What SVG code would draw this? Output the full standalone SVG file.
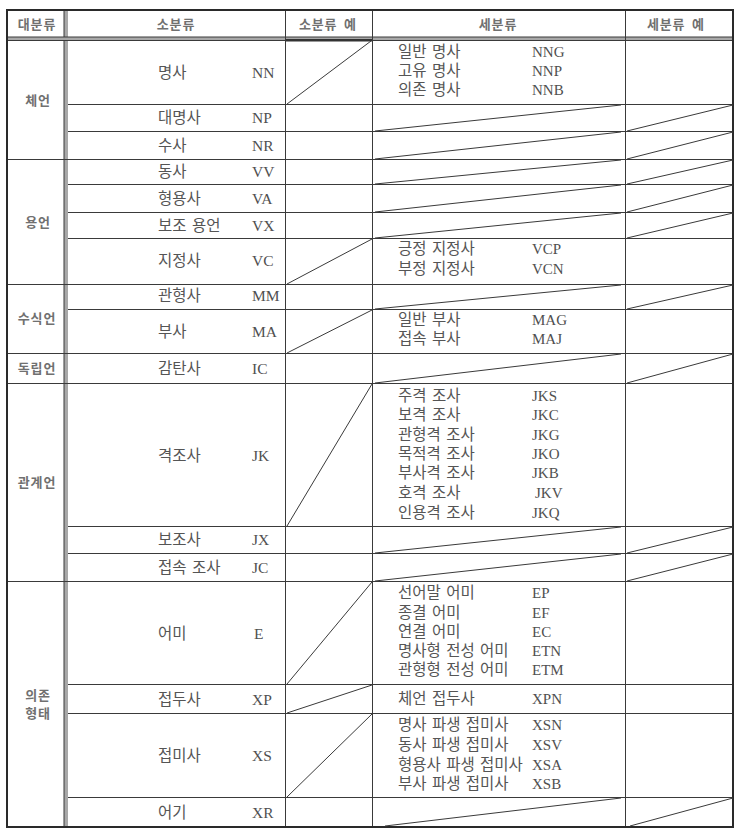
<svg xmlns="http://www.w3.org/2000/svg" width="744" height="835" viewBox="0 0 744 835">
<style>
.bg{fill:#fff}
.ln{stroke:#3a3a3a;stroke-width:1;fill:none}
.dg{stroke:#3a3a3a;stroke-width:1;fill:none}
.bd{stroke:#2a2a2a;stroke-width:2;fill:none}
.gb{fill:#a8a8a8}
.t{font-family:"Liberation Serif","Noto Sans CJK KR",serif;font-size:15.5px;word-spacing:1.5px;fill:#555}
.c{font-family:"Liberation Serif","Noto Sans CJK KR",serif;font-size:15.5px;fill:#505050}
.s{font-family:"Liberation Serif","Noto Sans CJK KR",serif;font-size:15px;fill:#505050}
.h{font-family:"Noto Sans CJK KR",sans-serif;font-size:13px;font-weight:bold;letter-spacing:0.8px;word-spacing:3px;fill:#707070;text-anchor:middle}
</style>
<rect class="bg" x="0" y="0" width="744" height="835"/>
<g id="grid">
<rect class="gb" x="64" y="10" width="4" height="817"/>
<line class="ln" x1="64" y1="10" x2="64" y2="827"/>
<rect class="gb" x="7" y="37" width="726" height="3"/>
<line class="ln" x1="7" y1="37" x2="733" y2="37"/>
<line class="ln" x1="7" y1="40.5" x2="733" y2="40.5"/>
<rect x="285" y="39" width="87" height="2.5" fill="#333"/>
<line class="ln" x1="285.5" y1="10" x2="285.5" y2="827"/>
<line class="ln" x1="372.5" y1="10" x2="372.5" y2="827"/>
<line class="ln" x1="625.5" y1="10" x2="625.5" y2="827"/>
<g id="group-lines">
<line class="ln" x1="7" y1="159.5" x2="733" y2="159.5"/>
<line class="ln" x1="7" y1="284.5" x2="733" y2="284.5"/>
<line class="ln" x1="7" y1="353.5" x2="733" y2="353.5"/>
<line class="ln" x1="7" y1="383.5" x2="733" y2="383.5"/>
<line class="ln" x1="7" y1="581.5" x2="733" y2="581.5"/>
</g>
<g id="row-lines">
<line class="ln" x1="68" y1="104.5" x2="733" y2="104.5"/>
<line class="ln" x1="68" y1="131.5" x2="733" y2="131.5"/>
<line class="ln" x1="68" y1="184.5" x2="733" y2="184.5"/>
<line class="ln" x1="68" y1="212.5" x2="733" y2="212.5"/>
<line class="ln" x1="68" y1="238.5" x2="733" y2="238.5"/>
<line class="ln" x1="68" y1="309.5" x2="733" y2="309.5"/>
<line class="ln" x1="68" y1="526.5" x2="733" y2="526.5"/>
<line class="ln" x1="68" y1="553.5" x2="733" y2="553.5"/>
<line class="ln" x1="68" y1="684.5" x2="733" y2="684.5"/>
<line class="ln" x1="68" y1="713.5" x2="733" y2="713.5"/>
<line class="ln" x1="68" y1="797.5" x2="733" y2="797.5"/>
</g>
<rect class="bd" x="7" y="10" width="726" height="817"/>
</g>
<g id="diagonals">
<line class="dg" x1="287" y1="104" x2="371" y2="41"/>
<line class="dg" x1="287" y1="284" x2="372" y2="239"/>
<line class="dg" x1="287" y1="353" x2="372" y2="310"/>
<line class="dg" x1="287" y1="526" x2="372" y2="384"/>
<line class="dg" x1="287" y1="684" x2="372" y2="582"/>
<line class="dg" x1="287" y1="713" x2="372" y2="685"/>
<line class="dg" x1="287" y1="797" x2="372" y2="714"/>
<line class="dg" x1="375" y1="131" x2="621" y2="105"/>
<line class="dg" x1="627" y1="131" x2="733" y2="105"/>
<line class="dg" x1="375" y1="159" x2="621" y2="132"/>
<line class="dg" x1="627" y1="159" x2="733" y2="132"/>
<line class="dg" x1="375" y1="184" x2="621" y2="160"/>
<line class="dg" x1="627" y1="184" x2="733" y2="160"/>
<line class="dg" x1="375" y1="212" x2="621" y2="185"/>
<line class="dg" x1="627" y1="212" x2="733" y2="185"/>
<line class="dg" x1="375" y1="238" x2="621" y2="213"/>
<line class="dg" x1="627" y1="238" x2="733" y2="213"/>
<line class="dg" x1="375" y1="309" x2="621" y2="285"/>
<line class="dg" x1="627" y1="309" x2="733" y2="285"/>
<line class="dg" x1="375" y1="383" x2="621" y2="354"/>
<line class="dg" x1="627" y1="383" x2="733" y2="354"/>
<line class="dg" x1="375" y1="553" x2="621" y2="527"/>
<line class="dg" x1="627" y1="553" x2="733" y2="527"/>
<line class="dg" x1="375" y1="581" x2="621" y2="554"/>
<line class="dg" x1="627" y1="581" x2="733" y2="554"/>
<line class="dg" x1="385" y1="826" x2="621" y2="798"/>
<line class="dg" x1="630" y1="826" x2="733" y2="798"/>
</g>
<g id="header">
<text class="h" x="37" y="28.5">대분류</text>
<text class="h" x="176" y="28.5">소분류</text>
<text class="h" x="328" y="28.5">소분류 예</text>
<text class="h" x="498" y="28.5">세분류</text>
<text class="h" x="676" y="28.5">세분류 예</text>
</g>
<g id="major">
<text class="h" x="38" y="104.5">체언</text>
<text class="h" x="38" y="226.5">용언</text>
<text class="h" x="37" y="323">수식언</text>
<text class="h" x="37" y="372.5">독립언</text>
<text class="h" x="37" y="486.5">관계언</text>
<text class="h" x="38" y="699.5">의존</text>
<text class="h" x="38" y="717.5">형태</text>
</g>
<g id="row-NN"><text class="t" x="158" y="77.5">명사</text><text class="c" x="252" y="77.5">NN</text>
<text class="t" x="398" y="57">일반 명사</text><text class="s" x="532" y="57">NNG</text>
<text class="t" x="398" y="75.5">고유 명사</text><text class="s" x="532" y="75.5">NNP</text>
<text class="t" x="398" y="94.5">의존 명사</text><text class="s" x="532" y="94.5">NNB</text></g>
<g id="row-NP"><text class="t" x="158" y="123">대명사</text><text class="c" x="252" y="123">NP</text></g>
<g id="row-NR"><text class="t" x="158" y="150.5">수사</text><text class="c" x="252" y="150.5">NR</text></g>
<g id="row-VV"><text class="t" x="158" y="177">동사</text><text class="c" x="252" y="177">VV</text></g>
<g id="row-VA"><text class="t" x="158" y="204">형용사</text><text class="c" x="252" y="204">VA</text></g>
<g id="row-VX"><text class="t" x="158" y="230.5">보조 용언</text><text class="c" x="252" y="230.5">VX</text></g>
<g id="row-VC"><text class="t" x="158" y="266">지정사</text><text class="c" x="252" y="266">VC</text>
<text class="t" x="398" y="254">긍정 지정사</text><text class="s" x="532" y="254">VCP</text>
<text class="t" x="398" y="274">부정 지정사</text><text class="s" x="532" y="274">VCN</text></g>
<g id="row-MM"><text class="t" x="158" y="300.5">관형사</text><text class="c" x="252" y="300.5">MM</text></g>
<g id="row-MA"><text class="t" x="158" y="336.5">부사</text><text class="c" x="252" y="336.5">MA</text>
<text class="t" x="398" y="325">일반 부사</text><text class="s" x="532" y="325">MAG</text>
<text class="t" x="398" y="344">접속 부사</text><text class="s" x="532" y="344">MAJ</text></g>
<g id="row-IC"><text class="t" x="158" y="373.5">감탄사</text><text class="c" x="252" y="373.5">IC</text></g>
<g id="row-JK"><text class="t" x="158" y="460.5">격조사</text><text class="c" x="252" y="460.5">JK</text>
<text class="t" x="398" y="401">주격 조사</text><text class="s" x="532" y="401">JKS</text>
<text class="t" x="398" y="420">보격 조사</text><text class="s" x="532" y="420">JKC</text>
<text class="t" x="398" y="440">관형격 조사</text><text class="s" x="532" y="440">JKG</text>
<text class="t" x="398" y="458.5">목적격 조사</text><text class="s" x="532" y="458.5">JKO</text>
<text class="t" x="398" y="478">부사격 조사</text><text class="s" x="532" y="478">JKB</text>
<text class="t" x="398" y="498">호격 조사</text><text class="s" x="535" y="498">JKV</text>
<text class="t" x="398" y="518">인용격 조사</text><text class="s" x="532" y="518">JKQ</text></g>
<g id="row-JX"><text class="t" x="158" y="544.5">보조사</text><text class="c" x="252" y="544.5">JX</text></g>
<g id="row-JC"><text class="t" x="158" y="572.5">접속 조사</text><text class="c" x="252" y="572.5">JC</text></g>
<g id="row-E"><text class="t" x="158" y="638.5">어미</text><text class="c" x="254" y="638.5">E</text>
<text class="t" x="398" y="598">선어말 어미</text><text class="s" x="532" y="598">EP</text>
<text class="t" x="398" y="618">종결 어미</text><text class="s" x="532" y="618">EF</text>
<text class="t" x="398" y="637">연결 어미</text><text class="s" x="532" y="637">EC</text>
<text class="t" x="398" y="656">명사형 전성 어미</text><text class="s" x="532" y="656">ETN</text>
<text class="t" x="398" y="675">관형형 전성 어미</text><text class="s" x="532" y="675">ETM</text></g>
<g id="row-XP"><text class="t" x="158" y="704.5">접두사</text><text class="c" x="252" y="704.5">XP</text>
<text class="t" x="398" y="703.5">체언 접두사</text><text class="s" x="532" y="703.5">XPN</text></g>
<g id="row-XS"><text class="t" x="158" y="760.5">접미사</text><text class="c" x="252" y="760.5">XS</text>
<text class="t" x="398" y="730">명사 파생 접미사</text><text class="s" x="532" y="730">XSN</text>
<text class="t" x="398" y="750">동사 파생 접미사</text><text class="s" x="532" y="750">XSV</text>
<text class="t" x="398" y="770">형용사 파생 접미사</text><text class="s" x="532" y="770">XSA</text>
<text class="t" x="398" y="789">부사 파생 접미사</text><text class="s" x="532" y="789">XSB</text></g>
<g id="row-XR"><text class="t" x="158" y="817.5">어기</text><text class="c" x="252" y="817.5">XR</text></g>
</svg>
